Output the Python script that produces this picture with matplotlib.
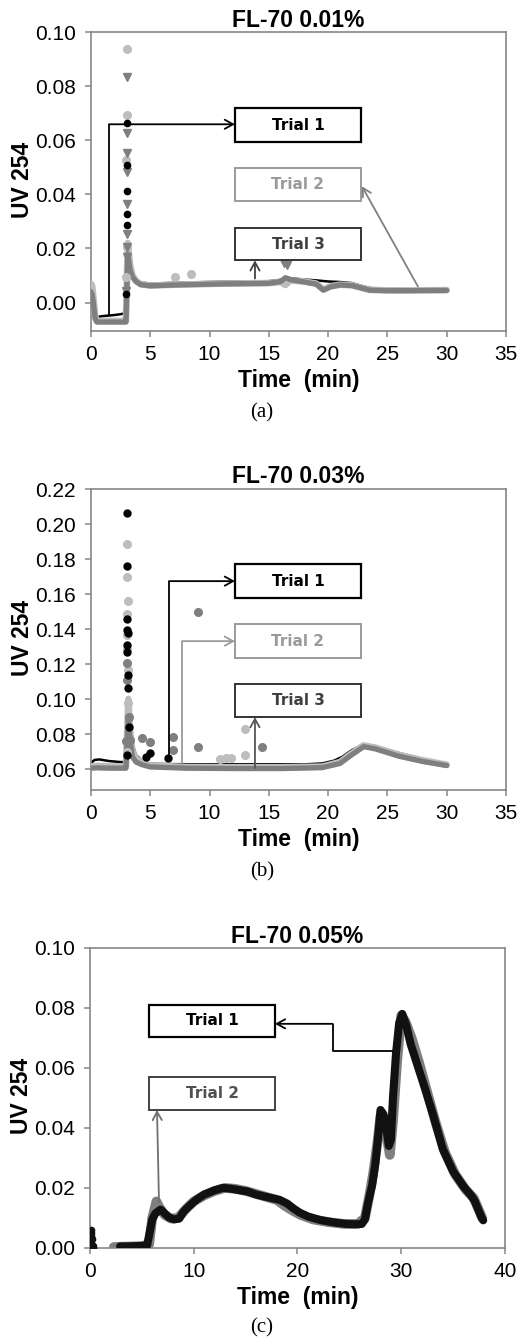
import matplotlib
matplotlib.use("Agg")
import matplotlib.pyplot as plt
from matplotlib.patches import Rectangle

# ---------------- data ----------------
# Panel (a) FL-70 0.01%
a_t1_t = [0.0, 0.15, 0.3, 0.45, 0.7, 1.0, 1.5, 2.0, 2.5, 2.8, 2.95,
          3.1, 3.3, 3.5, 3.8, 4.2, 5.0, 7.0, 9.0, 11.0, 13.0, 15.0, 16.0, 16.5,
          17.5, 19.0, 20.0, 21.0, 22.0, 22.8, 23.5, 25.0, 27.0, 30.0]
a_t1_v = [0.004, 0.001, -0.004, -0.0055, -0.0052, -0.005, -0.0048, -0.0046, -0.0043, -0.0040, -0.0042,
          0.020, 0.013, 0.010, 0.0082, 0.0074, 0.0070, 0.0073, 0.0075, 0.0077, 0.0078, 0.0079, 0.0084, 0.0092,
          0.0087, 0.0082, 0.0078, 0.0076, 0.0072, 0.0062, 0.0054, 0.0050, 0.0049, 0.0049]
a_t1_st = [3.0, 3.0, 3.0, 3.0, 3.0, 2.98]
a_t1_sv = [0.0662, 0.0507, 0.0412, 0.0328, 0.0285, 0.0032]

a_t2_t = [0.0, 0.1, 0.2, 0.35, 0.5, 1.0, 1.5, 2.0, 2.5, 2.95,
          3.1, 3.3, 3.5, 3.8, 4.2, 5.0, 7.0, 9.0, 11.0, 13.0,
          15.0, 16.0, 16.4, 16.8, 18.0, 19.0, 19.6, 20.2, 21.0, 22.0,
          22.8, 23.5, 25.0, 27.0, 30.0]
a_t2_v = [0.007, 0.006, 0.002, -0.005, -0.0068, -0.0068, -0.0068, -0.0068, -0.0068, -0.0068,
          0.022, 0.014, 0.010, 0.0080, 0.0068, 0.0063, 0.0066, 0.0068, 0.0070, 0.0071,
          0.0072, 0.0076, 0.0065, 0.0082, 0.0078, 0.0070, 0.0048, 0.0060, 0.0066, 0.0064,
          0.0055, 0.0047, 0.0045, 0.0045, 0.0046]
a_t2_st = [3.0, 3.0, 2.98, 3.0, 2.95, 7.1, 8.4]
a_t2_sv = [0.0936, 0.0693, 0.0526, 0.0205, 0.0094, 0.0094, 0.0106]

a_t3_t = [0.0, 0.1, 0.2, 0.35, 0.5, 1.0, 1.5, 2.0, 2.5, 2.95,
          3.1, 3.3, 3.5, 3.8, 4.2, 5.0, 7.0, 9.0, 11.0, 13.0,
          15.0, 16.0, 16.4, 16.8, 18.0, 19.0, 19.6, 20.2, 21.0, 22.0,
          22.8, 23.5, 25.0, 27.0, 30.0]
a_t3_v = [0.004, 0.003, 0.0, -0.006, -0.0072, -0.0072, -0.0072, -0.0072, -0.0072, -0.0072,
          0.018, 0.012, 0.0095, 0.0078, 0.0066, 0.0062, 0.0065, 0.0067, 0.0069, 0.0070,
          0.0071, 0.0078, 0.0092, 0.0085, 0.0076, 0.0068, 0.0046, 0.0058, 0.0065, 0.0063,
          0.0054, 0.0046, 0.0044, 0.0044, 0.0045]
a_t3_st = [3.0, 3.0, 3.0, 3.0, 3.0, 3.02, 3.0, 3.05, 2.98, 16.3, 16.5]
a_t3_sv = [0.0834, 0.0627, 0.0553, 0.0482, 0.0365, 0.0255, 0.0205, 0.0168, 0.0044, 0.0145, 0.0138]

# Panel (b) FL-70 0.03%
b_t1_t = [0.0, 0.3, 0.7, 1.5, 2.5, 2.95, 3.15, 3.3, 3.5, 3.8,
          4.3, 5.0, 7.0, 10.0, 14.0, 18.0, 19.5, 20.5, 21.2, 22.0,
          23.0, 24.0, 26.0, 28.0, 30.0]
b_t1_v = [0.0635, 0.0652, 0.0655, 0.0646, 0.0640, 0.0640, 0.095, 0.085, 0.074, 0.068,
          0.0648, 0.0630, 0.0628, 0.0627, 0.0627, 0.0627, 0.0632, 0.0648, 0.0670, 0.0708,
          0.0742, 0.0731, 0.0691, 0.0658, 0.0632]
b_t1_st = [3.0, 3.0, 3.05, 3.05, 3.1, 3.0, 3.0, 3.1, 3.15, 3.2, 3.0, 4.6, 5.0, 6.5]
b_t1_sv = [0.2065, 0.1762, 0.1457, 0.1394, 0.1379, 0.1309, 0.127, 0.1137, 0.1061, 0.0842,
           0.068, 0.067, 0.069, 0.0663]

b_t2_t = [0.0, 0.5, 1.5, 2.5, 2.95, 3.15, 3.3, 3.5, 3.8, 4.3,
          5.0, 8.0, 12.0, 16.0, 19.5, 21.0, 22.0, 23.0, 24.0, 26.0,
          28.0, 30.0]
b_t2_v = [0.0615, 0.0618, 0.0615, 0.0615, 0.0615, 0.100, 0.082, 0.070, 0.066, 0.0635,
          0.0620, 0.0612, 0.0610, 0.0610, 0.0614, 0.0640, 0.0690, 0.0735, 0.0722, 0.0680,
          0.0650, 0.0625]
b_t2_st = [3.0, 3.05, 3.1, 3.05, 3.0, 3.0, 3.1, 3.15, 3.0, 13.0, 13.0, 10.9, 11.4, 11.8]
b_t2_sv = [0.1884, 0.1695, 0.156, 0.1486, 0.1366, 0.1289, 0.1166, 0.0975, 0.070,
           0.0829, 0.068, 0.0655, 0.0665, 0.0663]

b_t3_t = [0.0, 0.5, 1.5, 2.5, 2.95, 3.15, 3.3, 3.5, 3.8, 4.3,
          5.0, 8.0, 12.0, 16.0, 19.5, 21.0, 22.0, 23.0, 24.0, 26.0,
          28.0, 30.0]
b_t3_v = [0.0605, 0.0607, 0.0605, 0.0605, 0.0605, 0.090, 0.076, 0.067, 0.064, 0.0625,
          0.0612, 0.0605, 0.0603, 0.0603, 0.0608, 0.0632, 0.0682, 0.0728, 0.0715, 0.0673,
          0.0643, 0.0620]
b_t3_st = [2.95, 3.0, 3.05, 3.2, 3.3, 4.27, 4.98, 6.9, 6.9, 9.05, 9.05, 14.4]
b_t3_sv = [0.076, 0.1204, 0.1109, 0.0899, 0.0766, 0.0775, 0.0756, 0.0785, 0.071,
           0.1499, 0.0727, 0.0724]

# Panel (c) FL-70 0.05%
c_t1_t = [2.9, 3.5, 4.5, 5.5, 5.8, 6.0, 6.3, 6.8, 7.2, 7.6,
          8.1, 8.6, 9.0, 9.5, 10.3, 11.0, 12.0, 12.8, 13.5, 14.5,
          15.2, 16.0, 17.0, 18.3, 19.0, 19.6, 20.2, 21.0, 22.2, 23.5,
          24.7, 25.5, 26.2, 26.5, 26.8, 27.2, 27.5, 27.8, 28.0, 28.3,
          28.6, 28.8, 29.0, 29.2, 29.5, 29.8, 30.1, 30.5, 30.9, 31.6,
          32.3, 33.1, 34.0, 35.0, 36.0, 36.8, 37.1, 37.4, 37.7, 37.9]
c_t1_v = [0.0005, 0.0005, 0.0006, 0.0008, 0.006, 0.0095, 0.0115, 0.0128, 0.0115, 0.0102,
          0.0095, 0.0098, 0.012, 0.0138, 0.0162, 0.0178, 0.0192, 0.0200, 0.0198, 0.0192,
          0.0188, 0.0178, 0.0170, 0.0160, 0.0148, 0.0132, 0.0118, 0.0105, 0.0093, 0.0085,
          0.0080, 0.0079, 0.0080, 0.0095, 0.0150, 0.0210, 0.0280, 0.0380, 0.0460, 0.0445,
          0.0390, 0.0340, 0.0360, 0.0500, 0.0650, 0.0750, 0.0780, 0.0740, 0.0680, 0.0605,
          0.0530, 0.0440, 0.0330, 0.0255, 0.0205, 0.0172, 0.0155, 0.0130, 0.0105, 0.0092]
c_t1_st = [0.0, 0.05, 0.1, 0.1, 0.15, 0.2, 0.25, 0.3]
c_t1_sv = [0.002, 0.004, 0.006, 0.005, 0.003, 0.001, 0.0005, 0.0]

c_t2_t = [2.3, 3.0, 4.0, 5.0, 5.7, 6.0, 6.4, 6.7, 7.2, 7.8,
          8.5, 9.2, 10.0, 11.0, 12.0, 13.0, 14.0, 15.0, 16.0, 17.0,
          18.0, 18.8, 19.5, 20.3, 21.5, 23.0, 24.5, 25.8, 26.5, 26.9,
          27.3, 27.7, 28.0, 28.4, 28.7, 28.9, 29.2, 29.6, 30.0, 30.4,
          31.0, 31.7, 32.5, 33.3, 34.2, 35.2, 36.2, 37.0, 37.5, 37.8]
c_t2_v = [0.0003, 0.0004, 0.0005, 0.0006, 0.0012, 0.0100, 0.0155, 0.0135, 0.0110, 0.0098,
          0.0100, 0.0128, 0.0155, 0.0175, 0.0190, 0.0200, 0.0197, 0.0190, 0.0180, 0.0170,
          0.0160, 0.0140, 0.0125, 0.0110, 0.0095, 0.0086, 0.0080, 0.0080, 0.0100, 0.0170,
          0.0250, 0.0350, 0.0440, 0.0430, 0.0350, 0.0310, 0.0420, 0.0620, 0.0775, 0.0755,
          0.0700, 0.0620, 0.0520, 0.0420, 0.0320, 0.0245, 0.0195, 0.0165, 0.0125, 0.0100]

titles = ["FL-70 0.01%", "FL-70 0.03%", "FL-70 0.05%"]
captions = ["(a)", "(b)", "(c)"]
xlabel = "Time  (min)"
ylabel = "UV 254"

# ---------------- style ----------------
SANS = ["Liberation Sans", "DejaVu Sans"]
BOXFONT = ["DejaVu Sans"]
SPINE = "#868686"
BLACK = "#000000"
LIGHT = "#bdbdbd"
GRAY = "#7f7f7f"

fig = plt.figure(figsize=(5.19, 13.40), dpi=100)
ax_a = fig.add_axes([0.1753, 0.7530, 0.7996, 0.2231])
ax_b = fig.add_axes([0.1753, 0.4104, 0.7996, 0.2246])
ax_c = fig.add_axes([0.1734, 0.0687, 0.7996, 0.2239])


def style(ax, xlim, xticks, ylim, yticks, title, pad):
    ax.set_xlim(*xlim)
    ax.set_ylim(*ylim)
    ax.set_xticks(xticks)
    ax.set_yticks(yticks)
    ax.set_xticklabels([f"{v:g}" for v in xticks], fontfamily=SANS, fontsize=15)
    ax.set_yticklabels([f"{v:.2f}" for v in yticks], fontfamily=SANS, fontsize=15)
    for s in ax.spines.values():
        s.set_color(SPINE)
        s.set_linewidth(1.2)
    ax.tick_params(direction="out", length=4, width=1.1, color=SPINE)
    ax.tick_params(axis="x", pad=6)
    ax.tick_params(axis="y", pad=7)
    ax.set_title(title, fontfamily=SANS, fontsize=16.5, fontweight="bold", pad=pad)
    ax.set_xlabel(xlabel, fontfamily=SANS, fontsize=16.5, fontweight="bold")
    ax.set_ylabel(ylabel, fontfamily=SANS, fontsize=16.5, fontweight="bold")
    ax.xaxis.set_label_coords(0.5, -0.165)
    ax.xaxis.label.set_verticalalignment("center")
    ax.yaxis.set_label_coords(-0.165, 0.505)
    ax.yaxis.label.set_verticalalignment("center")


def box(ax, x0, x1, y0, y1, text, ec, tc, lw):
    ax.add_patch(Rectangle((x0, y0), x1 - x0, y1 - y0, fill=True, fc="white",
                           ec=ec, lw=lw, zorder=6))
    ax.text((x0 + x1) / 2, (y0 + y1) / 2, text, ha="center", va="center",
            fontfamily=BOXFONT, fontweight="bold", fontsize=11, color=tc, zorder=7)


def arrow(ax, pts, color, lw=1.3):
    if len(pts) > 2:
        xs = [p[0] for p in pts[:-1]]
        ys = [p[1] for p in pts[:-1]]
        ax.plot(xs, ys, color=color, lw=lw, zorder=5, solid_capstyle="butt")
    ax.annotate("", xy=pts[-1], xytext=pts[-2],
                arrowprops=dict(arrowstyle="->,head_length=0.6,head_width=0.33",
                                color=color, lw=lw, shrinkA=0, shrinkB=0),
                zorder=8)


# ---- panel a ----
ax = ax_a
ax.plot(a_t1_t, a_t1_v, color=BLACK, lw=1.8, zorder=2, solid_joinstyle="round")
ax.plot(a_t2_t, a_t2_v, color=LIGHT, lw=4.8, zorder=3, solid_joinstyle="round",
        solid_capstyle="round")
ax.plot(a_t3_t, a_t3_v, color=GRAY, lw=3.8, zorder=3.5, solid_joinstyle="round",
        solid_capstyle="round")
ax.plot(a_t2_st, a_t2_sv, "o", color=LIGHT, ms=5.5, ls="none", zorder=4)
ax.plot(a_t3_st, a_t3_sv, "v", color=GRAY, ms=5.5, ls="none", zorder=4.2)
ax.plot(a_t1_st, a_t1_sv, "o", color=BLACK, ms=4.5, ls="none", zorder=4.4)
style(ax, (0, 35), list(range(0, 36, 5)), (-0.0105, 0.10),
      [0.00, 0.02, 0.04, 0.06, 0.08, 0.10], titles[0], 3.5)
box(ax, 12.14, 22.77, 0.0593, 0.0719, "Trial 1", "#000000", "#000000", 1.6)
box(ax, 12.14, 22.77, 0.0374, 0.0496, "Trial 2", "#9a9a9a", "#9a9a9a", 1.4)
box(ax, 12.14, 22.77, 0.0156, 0.0274, "Trial 3", "#333333", "#404040", 1.4)
arrow(ax, [(1.52, -0.0045), (1.52, 0.0659), (12.14, 0.0659)], "#000000")
arrow(ax, [(27.58, 0.0059), (22.85, 0.0430)], "#808080")
arrow(ax, [(13.83, 0.0089), (13.83, 0.0156)], "#404040")

# ---- panel b ----
ax = ax_b
ax.plot(b_t1_t, b_t1_v, color=BLACK, lw=1.8, zorder=2, solid_joinstyle="round")
ax.plot(b_t2_t, b_t2_v, color=LIGHT, lw=4.8, zorder=3, solid_joinstyle="round",
        solid_capstyle="round")
ax.plot(b_t3_t, b_t3_v, color=GRAY, lw=3.8, zorder=3.5, solid_joinstyle="round",
        solid_capstyle="round")
ax.plot(b_t2_st, b_t2_sv, "o", color=LIGHT, ms=5.5, ls="none", zorder=4)
ax.plot(b_t3_st, b_t3_sv, "o", color=GRAY, ms=5.5, ls="none", zorder=4.2)
ax.plot(b_t1_st, b_t1_sv, "o", color=BLACK, ms=5, ls="none", zorder=4.4)
style(ax, (0, 35), list(range(0, 36, 5)), (0.048, 0.22),
      [0.06, 0.08, 0.10, 0.12, 0.14, 0.16, 0.18, 0.20, 0.22], titles[1], 4.5)
box(ax, 12.14, 22.77, 0.1577, 0.1771, "Trial 1", "#000000", "#000000", 1.6)
box(ax, 12.14, 22.77, 0.1234, 0.1429, "Trial 2", "#9a9a9a", "#9a9a9a", 1.4)
box(ax, 12.14, 22.77, 0.0897, 0.1086, "Trial 3", "#333333", "#404040", 1.4)
arrow(ax, [(6.58, 0.0651), (6.58, 0.1674), (12.14, 0.1674)], "#000000")
arrow(ax, [(7.68, 0.0620), (7.68, 0.1331), (12.14, 0.1331)], "#9a9a9a")
arrow(ax, [(13.83, 0.0606), (13.83, 0.0897)], "#555555")

# ---- panel c ----
ax = ax_c
ax.plot(c_t2_t, c_t2_v, color=GRAY, lw=7.0, zorder=2, solid_joinstyle="round",
        solid_capstyle="round")
ax.plot(c_t1_t, c_t1_v, color="#111111", lw=5.8, zorder=3, solid_joinstyle="round",
        solid_capstyle="round")
ax.plot(c_t1_st, c_t1_sv, "o", color="#111111", ms=4.5, ls="none", zorder=3.5)
style(ax, (0, 40), [0, 10, 20, 30, 40], (0.0, 0.10),
      [0.00, 0.02, 0.04, 0.06, 0.08, 0.10], titles[2], -1.0)
box(ax, 5.69, 17.83, 0.0703, 0.0810, "Trial 1", "#000000", "#000000", 1.6)
box(ax, 5.69, 17.83, 0.0460, 0.0570, "Trial 2", "#404040", "#505050", 1.4)
arrow(ax, [(29.2, 0.0657), (23.4, 0.0657), (23.4, 0.0747), (17.83, 0.0747)], "#000000")
arrow(ax, [(6.65, 0.0153), (6.46, 0.0460)], "#707070")

# captions
for cap, y in zip(captions, [0.692, 0.349, 0.009]):
    fig.text(0.505, y, cap, ha="center", va="center",
             fontfamily=["Liberation Serif", "DejaVu Serif"], fontsize=15)

fig.savefig("out.png", dpi=100)
